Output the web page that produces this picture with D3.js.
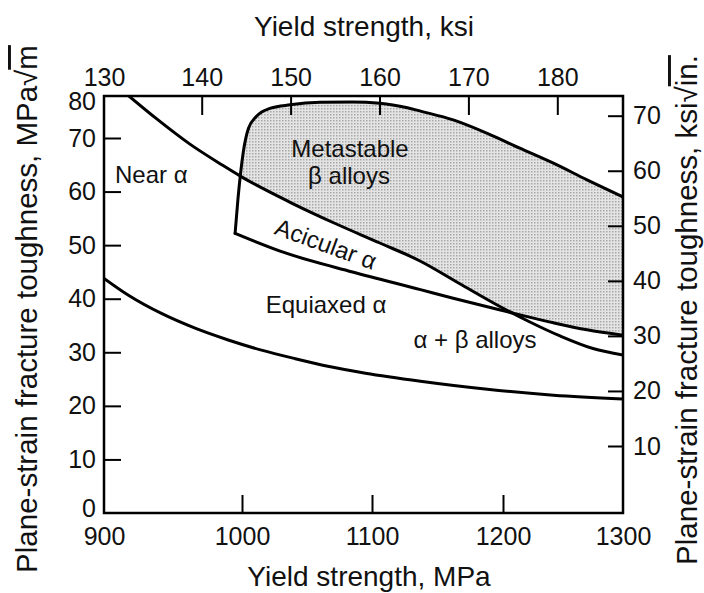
<!DOCTYPE html>
<html>
<head>
<meta charset="utf-8">
<script src="https://cdn.jsdelivr.net/npm/d3@7"></script>
<style>
  html, body { margin: 0; padding: 0; background: #fff; }
  svg { display: block; }
  text { font-family: "Liberation Sans", Arial, Helvetica, sans-serif; fill: #111; }
</style>
</head>
<body>
<svg id="chart" width="704" height="593"></svg>
<script>
// ---- Data ----
const xMPaTicks = [900, 1000, 1100, 1200, 1300];
const xKsiTicks = [130, 140, 150, 160, 170, 180];
const yMPaTicks = [0, 10, 20, 30, 40, 50, 60, 70, 80];
const yKsiTicks = [10, 20, 30, 40, 50, 60, 70];

// Near-alpha upper boundary (yield strength MPa, toughness MPa*sqrt(m))
const nearAlphaX = [918, 938, 962, 986, 1000, 1037, 1073, 1106, 1137, 1167, 1198, 1222, 1248, 1275, 1300];
const nearAlphaY = [80, 74.6, 68.9, 64.9, 62.7, 58.0, 53.9, 50.4, 47.0, 42.8, 38.5, 35.7, 33.0, 30.7, 29.5];

// Lower line of the acicular-alpha band
const acicularX = [995, 1034, 1085, 1137, 1162, 1198, 1242, 1270, 1300];
const acicularY = [52.2, 48.5, 45.0, 41.7, 40.1, 37.9, 35.5, 34.2, 33.2];

// Metastable beta alloys outline (left edge and top)
const metaX = [995, 997, 1001, 1005, 1011, 1022, 1037, 1060, 1085, 1106, 1127, 1137, 1162, 1188, 1214, 1242, 1270, 1300];
const metaY = [52.2, 58.4, 67.4, 72.3, 75.1, 77.1, 77.9, 78.5, 78.6, 78.3, 77.2, 76.4, 74.3, 71.1, 68.1, 65.3, 62.2, 59.0];

// Lower bound curve
const lowerX = [900, 918, 942, 966, 990, 1015, 1041, 1066, 1095, 1137, 1188, 1242, 1300];
const lowerY = [43.8, 40.6, 37.2, 34.5, 32.3, 30.4, 28.8, 27.4, 26.1, 24.6, 23.1, 22.0, 21.3];

const regionLabels = ["Near α", "Metastable", "β alloys", "Acicular α", "Equiaxed α", "α + β alloys"];

// ---- Layout ----
const svg = d3.select("#chart");
const L = 104, R = 623, T = 96, B = 513;

const x = d3.scaleLinear().domain([900, 1000, 1100, 1200, 1300]).range([L, 242, 372, 503, R]);
const y = d3.scaleLinear().domain([0, 70, 80]).range([B, 138, T]);
const xTop = d3.scaleLinear().domain([130, 140, 180]).range([L, 201.7, 557.3]);
const yRight = d3.scaleLinear().domain([10, 70]).range([446, 115.7]);

const zip = (a, b) => a.map((v, i) => [v, b[i]]);
const nearAlpha = zip(nearAlphaX, nearAlphaY);
const acicular = zip(acicularX, acicularY);
const meta = zip(metaX, metaY);
const lower = zip(lowerX, lowerY);

const defs = svg.append("defs");
const pat = defs.append("pattern").attr("id", "stipple")
  .attr("patternUnits", "userSpaceOnUse").attr("width", 3).attr("height", 3);
pat.append("rect").attr("width", 3).attr("height", 3).attr("fill", "#e4e4e4");
pat.append("rect").attr("width", 1.5).attr("height", 1.5).attr("fill", "#a8a8a8");

defs.append("clipPath").attr("id", "plotClip").append("rect")
  .attr("x", L).attr("y", T).attr("width", R - L).attr("height", B - T);

const curve = d3.curveMonotoneX;
const line = d3.line().x(d => x(d[0])).y(d => y(d[1])).curve(curve);
const areaAbove = d3.area().x(d => x(d[0])).y0(T - 20).y1(d => y(d[1])).curve(curve);
const areaBelow = d3.area().x(d => x(d[0])).y0(B).y1(d => y(d[1])).curve(curve);

defs.append("clipPath").attr("id", "aboveNear").append("path").attr("d", areaAbove(nearAlpha));
defs.append("clipPath").attr("id", "aboveAcic").append("path").attr("d", areaAbove(acicular));

const plot = svg.append("g").attr("clip-path", "url(#plotClip)");

// shaded metastable beta region
plot.append("g").attr("clip-path", "url(#aboveNear)")
  .append("g").attr("clip-path", "url(#aboveAcic)")
  .append("path").attr("d", areaBelow(meta)).attr("fill", "url(#stipple)");

const strokeStyle = sel => sel.attr("fill", "none").attr("stroke", "#000")
  .attr("stroke-width", 3).attr("stroke-linecap", "round").attr("stroke-linejoin", "round");

plot.append("path").attr("d", line(nearAlpha)).call(strokeStyle);
plot.append("path").attr("d", line(acicular)).call(strokeStyle);
plot.append("path").attr("d", line(meta)).call(strokeStyle);
plot.append("path").attr("d", line(lower)).call(strokeStyle);

// ---- Axes ----
const fsTick = 25;
function styleAxis(g, hideVals) {
  g.select(".domain").remove();
  g.selectAll(".tick line").attr("stroke", "#000").attr("stroke-width", 2)
    .filter(d => hideVals.includes(d)).remove();
  g.selectAll(".tick text").attr("font-size", fsTick).attr("fill", "#111")
    .style("font-family", '"Liberation Sans", Arial, sans-serif');
}

svg.append("g").attr("transform", `translate(0,${B})`)
  .call(d3.axisBottom(x).tickValues(xMPaTicks).tickFormat(d3.format("d")).tickSize(-18).tickPadding(14))
  .call(g => styleAxis(g, [900, 1300]));

svg.append("g").attr("transform", `translate(0,${T})`)
  .call(d3.axisTop(xTop).tickValues(xKsiTicks).tickFormat(d3.format("d")).tickSize(-19).tickPadding(10))
  .call(g => styleAxis(g, [130]));

svg.append("g").attr("transform", `translate(${L},0)`)
  .call(d3.axisLeft(y).tickValues(yMPaTicks).tickFormat(d3.format("d")).tickSize(-17).tickPadding(8))
  .call(g => styleAxis(g, [0, 80]))
  .call(g => {
    g.selectAll(".tick text").filter(d => d === 80).attr("dy", "0.55em");
    g.selectAll(".tick text").filter(d => d === 0).attr("dy", "0.12em");
  });

svg.append("g").attr("transform", `translate(${R},0)`)
  .call(d3.axisRight(yRight).tickValues(yKsiTicks).tickFormat(d3.format("d")).tickSize(-15).tickPadding(10))
  .call(g => styleAxis(g, []));

// frame
svg.append("rect").attr("x", L).attr("y", T).attr("width", R - L).attr("height", B - T)
  .attr("fill", "none").attr("stroke", "#000").attr("stroke-width", 2.5);

// ---- Titles ----
const fsTitle = 28;
svg.append("text").attr("x", 369).attr("y", 586).attr("text-anchor", "middle")
  .attr("font-size", fsTitle).text("Yield strength, MPa");
svg.append("text").attr("x", 364).attr("y", 36).attr("text-anchor", "middle")
  .attr("font-size", fsTitle).text("Yield strength, ksi");

const fsVTitle = 29.5;
const lt = svg.append("text").attr("transform", "translate(37,309) rotate(-90)")
  .attr("text-anchor", "middle").attr("font-size", fsVTitle);
lt.append("tspan").text("Plane-strain fracture toughness, MPa√");
lt.append("tspan").style("text-decoration", "overline").text("m");

const rt = svg.append("text").attr("transform", "translate(697,310) rotate(-90)")
  .attr("text-anchor", "middle").attr("font-size", fsVTitle);
rt.append("tspan").text("Plane-strain fracture toughness, ksi√");
rt.append("tspan").style("text-decoration", "overline").text("in.");

// ---- Region labels ----
const fsLab = 24;
svg.append("text").attr("x", 115).attr("y", 183).attr("font-size", fsLab).text(regionLabels[0]);
svg.append("text").attr("x", 350).attr("y", 157).attr("text-anchor", "middle").attr("font-size", fsLab).text(regionLabels[1]);
svg.append("text").attr("x", 349).attr("y", 184).attr("text-anchor", "middle").attr("font-size", fsLab).text(regionLabels[2]);
svg.append("text").attr("transform", "translate(326,244) rotate(20)").attr("dy", "0.35em")
  .attr("text-anchor", "middle").attr("font-size", fsLab).text(regionLabels[3]);
svg.append("text").attr("x", 326).attr("y", 313).attr("text-anchor", "middle").attr("font-size", fsLab).text(regionLabels[4]);
svg.append("text").attr("x", 475).attr("y", 348).attr("text-anchor", "middle").attr("font-size", fsLab).text(regionLabels[5]);
</script>
</body>
</html>
